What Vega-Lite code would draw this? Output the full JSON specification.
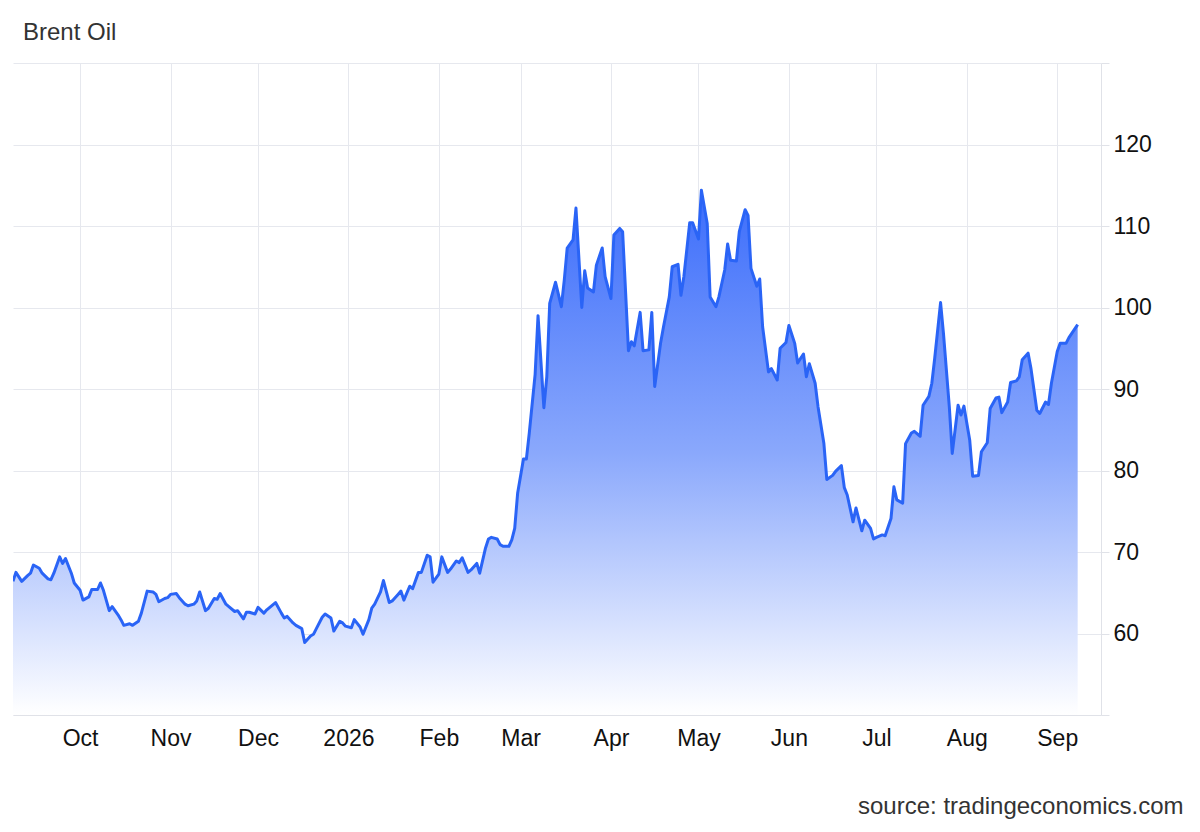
{
  "$schema": "https://vega.github.io/schema/vega-lite/v6.json",
  "width": 1088,
  "height": 652,
  "autosize": {"type": "none"},
  "padding": {"left": 13, "top": 63, "right": 99, "bottom": 117},
  "background": "white",
  "config": {"view": {"stroke": null}, "font": "Liberation Sans"},
  "title": {
    "text": "Brent Oil",
    "anchor": "start",
    "frame": "group",
    "dx": 10,
    "offset": -1,
    "baseline": "alphabetic",
    "fontSize": 24,
    "font": "Liberation Sans",
    "fontWeight": "normal",
    "color": "#333333"
  },
  "data": {
    "values": [
      {"date": "2025-09-08", "price": 66.4},
      {"date": "2025-09-09", "price": 67.5},
      {"date": "2025-09-11", "price": 66.4},
      {"date": "2025-09-13", "price": 67.1},
      {"date": "2025-09-14", "price": 67.4},
      {"date": "2025-09-15", "price": 68.4},
      {"date": "2025-09-17", "price": 68.0},
      {"date": "2025-09-18", "price": 67.4},
      {"date": "2025-09-20", "price": 66.7},
      {"date": "2025-09-21", "price": 66.6},
      {"date": "2025-09-22", "price": 67.4},
      {"date": "2025-09-24", "price": 69.4},
      {"date": "2025-09-25", "price": 68.6},
      {"date": "2025-09-26", "price": 69.2},
      {"date": "2025-09-28", "price": 67.4},
      {"date": "2025-09-29", "price": 66.2},
      {"date": "2025-10-01", "price": 65.3},
      {"date": "2025-10-02", "price": 64.1},
      {"date": "2025-10-04", "price": 64.5},
      {"date": "2025-10-05", "price": 65.4},
      {"date": "2025-10-07", "price": 65.4},
      {"date": "2025-10-08", "price": 66.2},
      {"date": "2025-10-09", "price": 65.3},
      {"date": "2025-10-11", "price": 62.8},
      {"date": "2025-10-12", "price": 63.3},
      {"date": "2025-10-14", "price": 62.3},
      {"date": "2025-10-15", "price": 61.7},
      {"date": "2025-10-16", "price": 61.0},
      {"date": "2025-10-18", "price": 61.2},
      {"date": "2025-10-19", "price": 61.0},
      {"date": "2025-10-21", "price": 61.5},
      {"date": "2025-10-22", "price": 62.5},
      {"date": "2025-10-24", "price": 65.2},
      {"date": "2025-10-26", "price": 65.1},
      {"date": "2025-10-27", "price": 64.8},
      {"date": "2025-10-28", "price": 63.9},
      {"date": "2025-10-30", "price": 64.3},
      {"date": "2025-10-31", "price": 64.4},
      {"date": "2025-11-01", "price": 64.8},
      {"date": "2025-11-03", "price": 64.9},
      {"date": "2025-11-04", "price": 64.4},
      {"date": "2025-11-06", "price": 63.6},
      {"date": "2025-11-07", "price": 63.4},
      {"date": "2025-11-09", "price": 63.6},
      {"date": "2025-11-10", "price": 64.0},
      {"date": "2025-11-11", "price": 65.1},
      {"date": "2025-11-13", "price": 62.8},
      {"date": "2025-11-14", "price": 63.1},
      {"date": "2025-11-16", "price": 64.3},
      {"date": "2025-11-17", "price": 64.2},
      {"date": "2025-11-18", "price": 64.9},
      {"date": "2025-11-20", "price": 63.6},
      {"date": "2025-11-21", "price": 63.3},
      {"date": "2025-11-23", "price": 62.7},
      {"date": "2025-11-24", "price": 62.8},
      {"date": "2025-11-26", "price": 61.8},
      {"date": "2025-11-27", "price": 62.6},
      {"date": "2025-11-28", "price": 62.6},
      {"date": "2025-11-30", "price": 62.4},
      {"date": "2025-12-01", "price": 63.2},
      {"date": "2025-12-03", "price": 62.5},
      {"date": "2025-12-04", "price": 62.9},
      {"date": "2025-12-07", "price": 63.8},
      {"date": "2025-12-09", "price": 62.5},
      {"date": "2025-12-10", "price": 61.9},
      {"date": "2025-12-11", "price": 62.1},
      {"date": "2025-12-13", "price": 61.3},
      {"date": "2025-12-14", "price": 61.0},
      {"date": "2025-12-16", "price": 60.6},
      {"date": "2025-12-17", "price": 58.9},
      {"date": "2025-12-19", "price": 59.7},
      {"date": "2025-12-20", "price": 59.9},
      {"date": "2025-12-21", "price": 60.6},
      {"date": "2025-12-23", "price": 62.0},
      {"date": "2025-12-24", "price": 62.4},
      {"date": "2025-12-26", "price": 61.9},
      {"date": "2025-12-27", "price": 60.3},
      {"date": "2025-12-29", "price": 61.5},
      {"date": "2025-12-30", "price": 61.3},
      {"date": "2025-12-31", "price": 60.9},
      {"date": "2026-01-02", "price": 60.7},
      {"date": "2026-01-03", "price": 61.7},
      {"date": "2026-01-05", "price": 60.8},
      {"date": "2026-01-06", "price": 59.9},
      {"date": "2026-01-08", "price": 61.7},
      {"date": "2026-01-09", "price": 63.1},
      {"date": "2026-01-10", "price": 63.6},
      {"date": "2026-01-12", "price": 65.1},
      {"date": "2026-01-13", "price": 66.5},
      {"date": "2026-01-15", "price": 63.8},
      {"date": "2026-01-16", "price": 64.0},
      {"date": "2026-01-18", "price": 64.8},
      {"date": "2026-01-19", "price": 65.2},
      {"date": "2026-01-20", "price": 64.1},
      {"date": "2026-01-22", "price": 65.8},
      {"date": "2026-01-23", "price": 65.5},
      {"date": "2026-01-25", "price": 67.5},
      {"date": "2026-01-26", "price": 67.5},
      {"date": "2026-01-28", "price": 69.6},
      {"date": "2026-01-29", "price": 69.4},
      {"date": "2026-01-30", "price": 66.3},
      {"date": "2026-02-01", "price": 67.3},
      {"date": "2026-02-02", "price": 69.4},
      {"date": "2026-02-04", "price": 67.5},
      {"date": "2026-02-05", "price": 67.9},
      {"date": "2026-02-07", "price": 68.9},
      {"date": "2026-02-08", "price": 68.7},
      {"date": "2026-02-09", "price": 69.3},
      {"date": "2026-02-11", "price": 67.5},
      {"date": "2026-02-12", "price": 67.8},
      {"date": "2026-02-14", "price": 68.6},
      {"date": "2026-02-15", "price": 67.4},
      {"date": "2026-02-17", "price": 70.5},
      {"date": "2026-02-18", "price": 71.6},
      {"date": "2026-02-19", "price": 71.8},
      {"date": "2026-02-21", "price": 71.6},
      {"date": "2026-02-22", "price": 70.9},
      {"date": "2026-02-23", "price": 70.7},
      {"date": "2026-02-25", "price": 70.7},
      {"date": "2026-02-26", "price": 71.5},
      {"date": "2026-02-27", "price": 72.9},
      {"date": "2026-02-28", "price": 77.2},
      {"date": "2026-03-02", "price": 81.4},
      {"date": "2026-03-03", "price": 81.4},
      {"date": "2026-03-04", "price": 84.6},
      {"date": "2026-03-06", "price": 91.8},
      {"date": "2026-03-07", "price": 99.0},
      {"date": "2026-03-09", "price": 87.7},
      {"date": "2026-03-10", "price": 91.5},
      {"date": "2026-03-11", "price": 100.5},
      {"date": "2026-03-13", "price": 103.1},
      {"date": "2026-03-15", "price": 100.1},
      {"date": "2026-03-16", "price": 103.4},
      {"date": "2026-03-17", "price": 107.3},
      {"date": "2026-03-19", "price": 108.3},
      {"date": "2026-03-20", "price": 112.2},
      {"date": "2026-03-22", "price": 100.0},
      {"date": "2026-03-23", "price": 104.5},
      {"date": "2026-03-24", "price": 102.4},
      {"date": "2026-03-26", "price": 101.9},
      {"date": "2026-03-27", "price": 105.2},
      {"date": "2026-03-29", "price": 107.3},
      {"date": "2026-03-30", "price": 103.8},
      {"date": "2026-04-01", "price": 101.1},
      {"date": "2026-04-02", "price": 108.9},
      {"date": "2026-04-04", "price": 109.7},
      {"date": "2026-04-05", "price": 109.3},
      {"date": "2026-04-07", "price": 94.7},
      {"date": "2026-04-08", "price": 95.8},
      {"date": "2026-04-09", "price": 95.3},
      {"date": "2026-04-11", "price": 99.4},
      {"date": "2026-04-12", "price": 94.7},
      {"date": "2026-04-14", "price": 94.8},
      {"date": "2026-04-15", "price": 99.4},
      {"date": "2026-04-16", "price": 90.3},
      {"date": "2026-04-18", "price": 95.6},
      {"date": "2026-04-19", "price": 97.6},
      {"date": "2026-04-21", "price": 101.3},
      {"date": "2026-04-22", "price": 105.0},
      {"date": "2026-04-24", "price": 105.3},
      {"date": "2026-04-25", "price": 101.5},
      {"date": "2026-04-26", "price": 103.8},
      {"date": "2026-04-28", "price": 110.4},
      {"date": "2026-04-29", "price": 110.4},
      {"date": "2026-05-01", "price": 108.4},
      {"date": "2026-05-02", "price": 114.4},
      {"date": "2026-05-04", "price": 110.3},
      {"date": "2026-05-05", "price": 101.3},
      {"date": "2026-05-07", "price": 100.1},
      {"date": "2026-05-08", "price": 101.3},
      {"date": "2026-05-10", "price": 104.6},
      {"date": "2026-05-11", "price": 107.8},
      {"date": "2026-05-12", "price": 105.8},
      {"date": "2026-05-14", "price": 105.7},
      {"date": "2026-05-15", "price": 109.3},
      {"date": "2026-05-17", "price": 112.0},
      {"date": "2026-05-18", "price": 111.3},
      {"date": "2026-05-19", "price": 104.8},
      {"date": "2026-05-21", "price": 102.6},
      {"date": "2026-05-22", "price": 103.5},
      {"date": "2026-05-23", "price": 97.6},
      {"date": "2026-05-25", "price": 92.1},
      {"date": "2026-05-26", "price": 92.5},
      {"date": "2026-05-28", "price": 91.1},
      {"date": "2026-05-29", "price": 95.0},
      {"date": "2026-05-31", "price": 95.7},
      {"date": "2026-06-01", "price": 97.8},
      {"date": "2026-06-03", "price": 95.6},
      {"date": "2026-06-04", "price": 93.2},
      {"date": "2026-06-06", "price": 94.3},
      {"date": "2026-06-07", "price": 91.5},
      {"date": "2026-06-08", "price": 93.1},
      {"date": "2026-06-10", "price": 90.7},
      {"date": "2026-06-11", "price": 87.8},
      {"date": "2026-06-13", "price": 83.3},
      {"date": "2026-06-14", "price": 78.9},
      {"date": "2026-06-16", "price": 79.4},
      {"date": "2026-06-17", "price": 79.9},
      {"date": "2026-06-19", "price": 80.6},
      {"date": "2026-06-20", "price": 77.9},
      {"date": "2026-06-21", "price": 77.0},
      {"date": "2026-06-23", "price": 73.7},
      {"date": "2026-06-24", "price": 75.4},
      {"date": "2026-06-26", "price": 72.6},
      {"date": "2026-06-27", "price": 73.9},
      {"date": "2026-06-29", "price": 72.9},
      {"date": "2026-06-30", "price": 71.6},
      {"date": "2026-07-01", "price": 71.8},
      {"date": "2026-07-03", "price": 72.1},
      {"date": "2026-07-04", "price": 72.0},
      {"date": "2026-07-06", "price": 74.1},
      {"date": "2026-07-07", "price": 78.0},
      {"date": "2026-07-08", "price": 76.4},
      {"date": "2026-07-10", "price": 76.0},
      {"date": "2026-07-11", "price": 83.3},
      {"date": "2026-07-13", "price": 84.6},
      {"date": "2026-07-14", "price": 84.8},
      {"date": "2026-07-16", "price": 84.2},
      {"date": "2026-07-17", "price": 88.0},
      {"date": "2026-07-19", "price": 89.1},
      {"date": "2026-07-20", "price": 90.7},
      {"date": "2026-07-21", "price": 93.8},
      {"date": "2026-07-23", "price": 100.6},
      {"date": "2026-07-24", "price": 96.8},
      {"date": "2026-07-26", "price": 87.8},
      {"date": "2026-07-27", "price": 82.1},
      {"date": "2026-07-29", "price": 88.0},
      {"date": "2026-07-30", "price": 86.8},
      {"date": "2026-07-31", "price": 87.9},
      {"date": "2026-08-02", "price": 83.7},
      {"date": "2026-08-03", "price": 79.3},
      {"date": "2026-08-05", "price": 79.4},
      {"date": "2026-08-06", "price": 82.3},
      {"date": "2026-08-08", "price": 83.4},
      {"date": "2026-08-09", "price": 87.6},
      {"date": "2026-08-11", "price": 88.9},
      {"date": "2026-08-12", "price": 89.0},
      {"date": "2026-08-13", "price": 87.1},
      {"date": "2026-08-15", "price": 88.4},
      {"date": "2026-08-16", "price": 90.8},
      {"date": "2026-08-18", "price": 91.0},
      {"date": "2026-08-19", "price": 91.5},
      {"date": "2026-08-20", "price": 93.6},
      {"date": "2026-08-22", "price": 94.4},
      {"date": "2026-08-23", "price": 92.5},
      {"date": "2026-08-25", "price": 87.4},
      {"date": "2026-08-26", "price": 87.0},
      {"date": "2026-08-28", "price": 88.4},
      {"date": "2026-08-29", "price": 88.1},
      {"date": "2026-08-30", "price": 90.7},
      {"date": "2026-09-01", "price": 94.6},
      {"date": "2026-09-02", "price": 95.6},
      {"date": "2026-09-04", "price": 95.6},
      {"date": "2026-09-05", "price": 96.3},
      {"date": "2026-09-08", "price": 97.9}
    ]
  },
  "encoding": {
    "x": {
      "field": "date",
      "type": "temporal",
      "scale": {
        "type": "utc",
        "domain": [
          {"year": 2025, "month": 9, "date": 8, "utc": true},
          {"year": 2026, "month": 9, "date": 16, "utc": true}
        ]
      },
      "axis": {
        "tickCount": {"interval": "month", "step": 1},
        "labelExpr": "utcFormat(datum.value, '%m') == '01' ? utcFormat(datum.value, '%Y') : utcFormat(datum.value, '%b')",
        "grid": true,
        "gridColor": "#e6e8ee",
        "gridWidth": 1,
        "ticks": false,
        "domainColor": "#e0e2e8",
        "labelFontSize": 23,
        "labelColor": "#111111",
        "labelPadding": 12,
        "labelFlush": false,
        "labelOverlap": false,
        "title": "source: tradingeconomics.com",
        "titleX": 1170,
        "titleY": 98,
        "titleAlign": "right",
        "titleBaseline": "alphabetic",
        "titleFontSize": 24,
        "titleFontWeight": "normal",
        "titleColor": "#333333"
      }
    },
    "y": {
      "field": "price",
      "type": "quantitative",
      "scale": {"domain": [50, 130], "zero": false, "nice": false},
      "axis": {
        "orient": "right",
        "values": [50, 60, 70, 80, 90, 100, 110, 120, 130],
        "labelExpr": "datum.value == 50 || datum.value == 130 ? '' : datum.label",
        "grid": true,
        "gridColor": "#e6e8ee",
        "domain": true,
        "domainColor": "#e0e2e8",
        "tickColor": "#e0e2e8",
        "tickSize": 8,
        "labelPadding": 4,
        "labelFontSize": 23,
        "labelColor": "#111111",
        "title": null
      }
    }
  },
  "layer": [
    {
      "mark": {
        "type": "area",
        "clip": true,
        "fill": {
          "gradient": "linear",
          "x1": 0, "y1": 0, "x2": 0, "y2": 1,
          "stops": [
            {"offset": 0, "color": "#3c6dfb"},
            {"offset": 0.5, "color": "#8aa8fc"},
            {"offset": 1, "color": "#ffffff"}
          ]
        }
      },
      "encoding": {"y2": {"datum": 50}}
    },
    {
      "mark": {"type": "line", "clip": true, "color": "#2a64f6", "strokeWidth": 3, "strokeJoin": "round"}
    }
  ]
}
